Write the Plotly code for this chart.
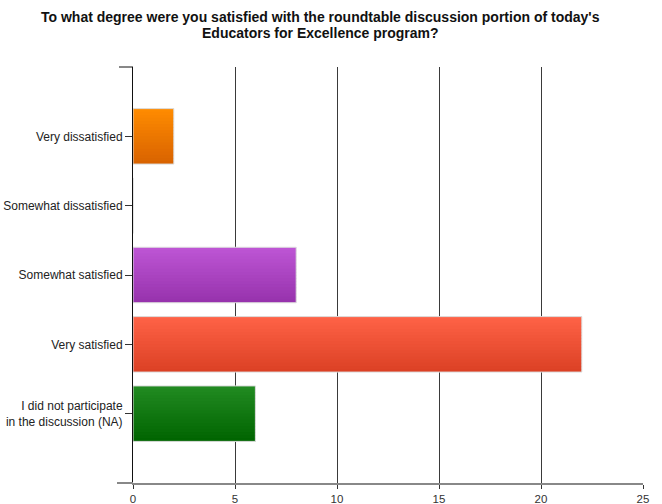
import plotly.graph_objects as go

categories = [
    "Very dissatisfied",
    "Somewhat dissatisfied",
    "Somewhat satisfied",
    "Very satisfied",
    "I did not participate<br>in the discussion (NA)",
]
values = [2, 0, 8, 22, 6]
x_ticks = [0, 5, 10, 15, 20, 25]

# gradient colours per bar (top -> bottom)
top_colors = [(255, 140, 0), (200, 200, 200), (190, 86, 213), (255, 99, 71), (34, 139, 34)]
bottom_colors = [(216, 98, 0), (200, 200, 200), (150, 50, 172), (219, 64, 36), (0, 100, 0)]

title_lines = [
    "To what degree were you satisfied with the roundtable discussion portion of today's",
    "Educators for Excellence program?",
]

fig = go.Figure()

N = 18
bar_w = 0.8
strip = bar_w / N
for k in range(N):
    t = (k + 0.5) / N
    cols = []
    for a, b in zip(top_colors, bottom_colors):
        c = tuple(round(a[i] + (b[i] - a[i]) * t) for i in range(3))
        cols.append("rgb(%d,%d,%d)" % c)
    w = strip + (0.012 if k < N - 1 else 0)
    fig.add_trace(go.Bar(
        x=values, y=categories, orientation="h",
        offset=-bar_w / 2 + k * strip, width=w,
        marker=dict(color=cols, line=dict(width=0)),
        hoverinfo="skip", showlegend=False,
    ))

# outline
fig.add_trace(go.Bar(
    x=values, y=categories, orientation="h", width=bar_w,
    marker=dict(color="rgba(0,0,0,0)", line=dict(color="#dcdcdc", width=1)),
    hoverinfo="skip", showlegend=False,
))

# title as two annotations (tight line spacing like the reference)
PLOT_L, PLOT_R, PLOT_T, PLOT_B = 133, 643, 67, 483
def px_to_paper_y(p):
    return (PLOT_B - p) / (PLOT_B - PLOT_T)
def px_to_paper_x(p):
    return (p - PLOT_L) / (PLOT_R - PLOT_L)

annotations = []
for line, yc in zip(title_lines, [17, 33]):
    annotations.append(dict(
        text=line, xref="paper", yref="paper",
        x=px_to_paper_x(320), y=px_to_paper_y(yc),
        xanchor="center", yanchor="middle", showarrow=False,
        font=dict(family="Liberation Sans, Arial, sans-serif", size=14, color="#111111",
                  weight="bold"),
    ))

fig.update_layout(
    width=662, height=504,
    margin=dict(l=PLOT_L, r=662 - PLOT_R, t=PLOT_T, b=504 - PLOT_B),
    paper_bgcolor="white", plot_bgcolor="white",
    barmode="overlay",
    font=dict(family="Liberation Sans, Arial, sans-serif", size=12, color="#222222"),
    annotations=annotations,
    xaxis=dict(
        range=[0, 25], tickvals=x_ticks, ticktext=[str(v) for v in x_ticks],
        showgrid=True, gridcolor="#3a3a3a", gridwidth=1,
        zeroline=False, showline=True, linecolor="#888888", linewidth=2,
        ticks="outside", ticklen=4, tickcolor="#333333", tickwidth=1,
        tickfont=dict(size=11.5, color="#333333"), automargin=False,
        fixedrange=True,
    ),
    yaxis=dict(
        categoryorder="array", categoryarray=categories,
        range=[5, -1], showgrid=False, zeroline=False,
        showline=True, linecolor="#111111", linewidth=1,
        ticks="outside", ticklen=7, tickcolor="#333333", tickwidth=1,
        tickfont=dict(size=12, color="#222222"), automargin=False,
        fixedrange=True,
    ),
    shapes=[
        dict(type="line", xref="x domain", yref="y domain", x0=-14 / 510, x1=0, y0=1, y1=1,
             line=dict(color="#111111", width=1)),
        dict(type="line", xref="x domain", yref="y domain", x0=-16 / 510, x1=0, y0=0, y1=0,
             line=dict(color="#888888", width=2)),
    ],
)

fig.write_html("out.html", config={"displayModeBar": False},
               post_script="document.body.style.margin='0';document.body.style.overflow='hidden';")
